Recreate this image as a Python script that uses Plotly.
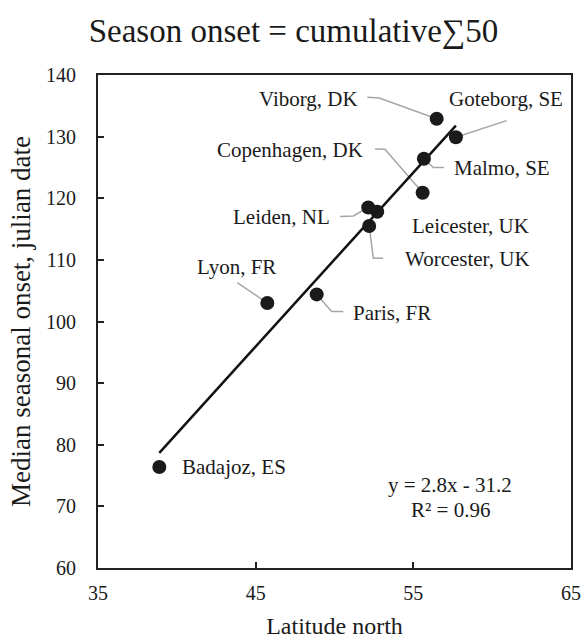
import numpy as np
import plotly.graph_objects as go

# ---- data ----
cities = ["Viborg, DK", "Goteborg, SE", "Malmo, SE", "Copenhagen, DK", "Leiden, NL",
          "Leicester, UK", "Worcester, UK", "Lyon, FR", "Paris, FR", "Badajoz, ES"]
latitude = [56.48, 57.70, 55.67, 55.59, 52.14, 52.71, 52.20, 45.74, 48.87, 38.89]
onset = [132.9, 129.9, 126.4, 120.9, 118.5, 117.8, 115.5, 103.0, 104.4, 76.4]
x_ticks = [35, 45, 55, 65]
y_ticks = [60, 70, 80, 90, 100, 110, 120, 130, 140]

# ---- label placement (layout, data-coordinate) ----
label_pos = {
    "Viborg, DK": (51.62, 136.06, "right"),
    "Goteborg, SE": (57.12, 136.06, "left"),
    "Copenhagen, DK": (51.93, 127.84, "right"),
    "Malmo, SE": (57.43, 124.87, "left"),
    "Leiden, NL": (49.82, 116.93, "right"),
    "Leicester, UK": (54.79, 115.56, "left"),
    "Worcester, UK": (54.36, 110.16, "left"),
    "Lyon, FR": (43.80, 108.82, "center"),
    "Paris, FR": (51.03, 101.36, "left"),
    "Badajoz, ES": (40.20, 76.32, "left"),
}
# leader elbows (from label side toward the point)
leaders = {
    "Viborg, DK": [(52.08, 136.38), (52.84, 136.27)],
    "Goteborg, SE": [(60.92, 132.59)],
    "Copenhagen, DK": [(52.57, 128.0), (53.2, 127.95)],
    "Malmo, SE": [(56.94, 124.97), (56.27, 124.97)],
    "Leiden, NL": [(50.35, 117.02), (51.19, 117.13)],
    "Worcester, UK": [(53.09, 110.28), (52.46, 110.28)],
    "Lyon, FR": [(43.83, 106.32)],
    "Paris, FR": [(50.56, 101.62), (49.82, 101.62)],
}

FONT = "Liberation Serif"

# trend line from least squares fit
slope, intercept = np.polyfit(latitude, onset, 1)
xl = np.array([min(latitude), max(latitude)])
yl = slope * xl + intercept

fig = go.Figure()

# leader lines
for i, c in enumerate(cities):
    if c in leaders:
        pts = leaders[c] + [(latitude[i], onset[i])]
        fig.add_trace(go.Scatter(x=[p[0] for p in pts], y=[p[1] for p in pts],
                                 mode="lines", line=dict(color="#a6a6a6", width=1.5),
                                 hoverinfo="skip", showlegend=False))

fig.add_trace(go.Scatter(x=xl, y=yl, mode="lines", line=dict(color="#111111", width=2.5),
                         showlegend=False))
fig.add_trace(go.Scatter(x=latitude, y=onset, mode="markers",
                         marker=dict(color="#1a1a1a", size=14), showlegend=False))

ann = []
for c in cities:
    x, y, anc = label_pos[c]
    ann.append(dict(x=x, y=y, xref="x", yref="y", text=c, showarrow=False,
                    xanchor=anc, yanchor="middle", font=dict(family=FONT, size=21, color="#1a1a1a")))
ann.append(dict(x=57.33, y=73.52, xref="x", yref="y", showarrow=False,
                text="y = 2.8x - 31.2", font=dict(family=FONT, size=21, color="#1a1a1a")))
ann.append(dict(x=57.33, y=69.46, xref="x", yref="y", showarrow=False,
                text="R² = 0.96", font=dict(family=FONT, size=21, color="#1a1a1a")))

axis_common = dict(showline=True, linecolor="#222222", linewidth=2, mirror=True,
                   ticks="inside", ticklen=6, tickwidth=1.5, tickcolor="#222222",
                   showgrid=False, zeroline=False, automargin=False,
                   tickfont=dict(family=FONT, size=20, color="#1a1a1a"))

fig.update_layout(
    width=587, height=639,
    margin=dict(l=98, r=16, t=75, b=71),
    paper_bgcolor="white", plot_bgcolor="white",
    title=dict(text="Season onset = cumulative∑50", x=0.5, xref="container", xanchor="center",
               y=1 - 30 / 639, yref="container", yanchor="middle",
               font=dict(family=FONT, size=33, color="#1a1a1a")),
    xaxis=dict(range=[35, 65], tickvals=x_ticks, ticklabelstandoff=6,
               title=dict(text="Latitude north", standoff=14,
                          font=dict(family=FONT, size=24, color="#1a1a1a")),
               **axis_common),
    yaxis=dict(range=[60, 140], tickvals=y_ticks, ticklabelstandoff=16,
               title=dict(text="Median seasonal onset, julian date", standoff=8,
                          font=dict(family=FONT, size=27, color="#1a1a1a")),
               **axis_common),
    annotations=ann,
)

fig.write_html("out.html")
